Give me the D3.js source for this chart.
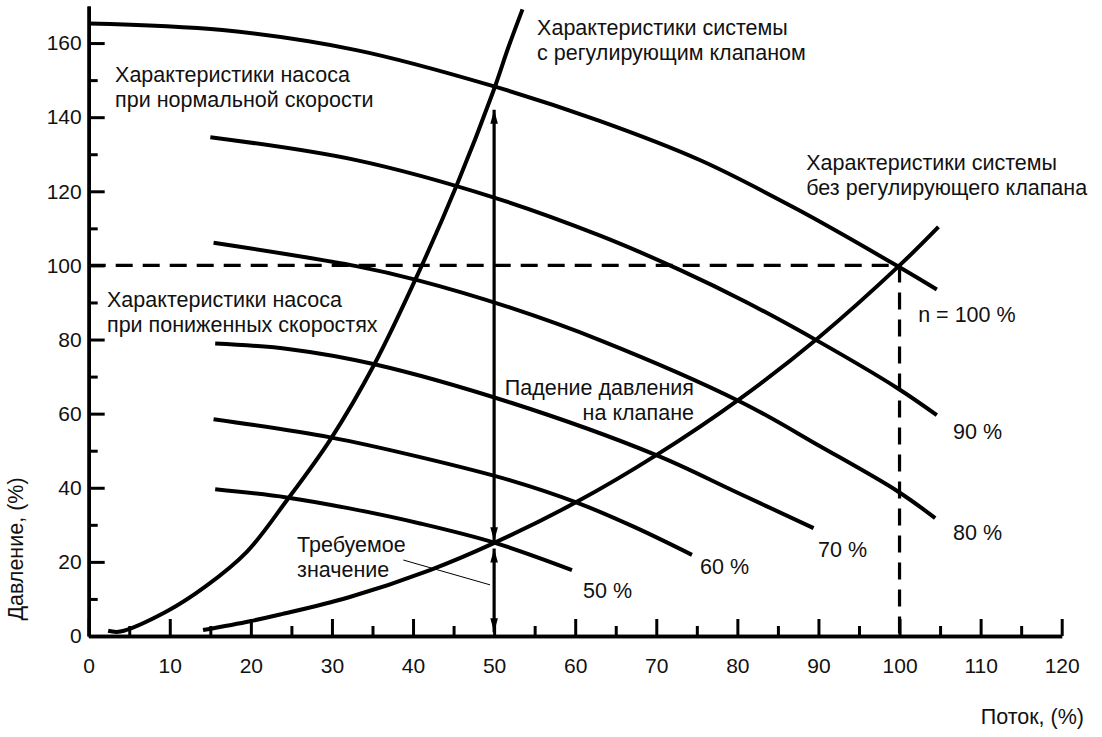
<!DOCTYPE html>
<html>
<head>
<meta charset="utf-8">
<script src="https://cdn.jsdelivr.net/npm/d3@7"></script>
<style>
  html, body { margin: 0; padding: 0; background: #fff; }
  svg { display: block; }
  text { font-family: "Liberation Sans", Arial, Helvetica, sans-serif; fill: #111; }
</style>
</head>
<body>
<div id="chart"></div>
<script>
// ---------------- DATA ----------------
const flowTicks = [0, 10, 20, 30, 40, 50, 60, 70, 80, 90, 100, 110, 120];
const flowMinorTicks = [5, 15, 25, 35, 45, 55, 65, 75, 85, 95, 105, 115];
const pressureTicks = [0, 20, 40, 60, 80, 100, 120, 140, 160];
const pressureMinorTicks = [10, 30, 50, 70, 90, 110, 130, 150];

// pump characteristic curves (flow %, pressure %)
const pump100Flow = [0, 16.5, 33, 50, 63, 75.5, 87.5, 100, 104.6];
const pump100Head = [165.3, 163.5, 158.1, 148.3, 139.0, 128.3, 115.0, 99.5, 93.5];
const pump90Flow = [15, 33, 50, 63, 72.9, 81, 90, 99.8, 104.6];
const pump90Head = [134.6, 128.4, 118.3, 108.1, 98.8, 90.2, 79.5, 66.8, 59.6];
const pump80Flow = [15.4, 33, 40.4, 52, 63.1, 80.3, 90.2, 99.8, 104.4];
const pump80Head = [106.1, 99.8, 96.1, 88.6, 79.8, 63.3, 51.2, 39.0, 31.8];
const pump70Flow = [15.6, 24.8, 35.1, 52, 70, 79.5, 89.4];
const pump70Head = [78.9, 77.4, 73.4, 63.0, 48.8, 39.2, 29.1];
const pump60Flow = [15.4, 29.8, 41, 52, 60.2, 67.2, 74.4];
const pump60Head = [58.5, 53.6, 48.2, 42.0, 36.0, 29.5, 21.9];
const pump50Flow = [15.6, 24.4, 32, 41, 50, 59.6];
const pump50Head = [39.6, 37.4, 34.5, 30.3, 25.2, 17.8];

// system curve without control valve
const sysFlow = [14.1, 19.9, 23.6, 32, 42.1, 49.9, 60.2, 70, 80.3, 90, 100, 104.8];
const sysHead = [1.6, 4.0, 5.8, 10.4, 17.8, 25.0, 36.2, 48.8, 64.0, 80.5, 100, 110.4];

// system curve with control valve
const valveFlow = [2.4, 3.9, 9.6, 14.5, 19.5, 24.4, 29.8, 35.3, 40.65, 45.4, 49.9, 51.75, 53.5];
const valveHead = [1.4, 1.2, 6.6, 13.5, 22.7, 36.5, 53.0, 73.6, 97.9, 121.7, 147.0, 158.8, 169.1];

// design point / reference values
const designFlow = [50, 100];          // required flow, full-speed flow
const designHead = [25, 100];          // required pressure, full-speed pressure
const valveDropArrow = [142, 25.6];    // pressure-drop arrow (from, to)
const requiredArrow = [23.6, 1.0];     // required pressure arrow (from, to)
const leaderFlow = [38.8, 49.5];
const leaderHead = [20.5, 13.8];

const pumpLabels = ["n = 100 %", "90 %", "80 %", "70 %", "60 %", "50 %"];

// ---------------- LAYOUT ----------------
const W = 1102, H = 737;
const svg = d3.select("#chart").append("svg").attr("width", W).attr("height", H);

const x = d3.scaleLinear().domain([0, 120]).range([88.7, 1061.7]);
const y = d3.scaleLinear().domain([0, 170]).range([636, 6]);

const FS = 21;
const FSA = 21.5;
const LINE_W = 4;

// axes
const xAxis = d3.axisBottom(x).tickValues(flowTicks).tickSizeInner(-17).tickSizeOuter(0).tickPadding(22);
const xMinor = d3.axisBottom(x).tickValues(flowMinorTicks).tickSizeInner(-10).tickSizeOuter(0).tickFormat("");
const yAxis = d3.axisLeft(y).tickValues(pressureTicks).tickSizeInner(-16).tickSizeOuter(0).tickPadding(7);
const yMinor = d3.axisLeft(y).tickValues(pressureMinorTicks).tickSizeInner(-9).tickSizeOuter(0).tickFormat("");

function styleAxis(g) {
  g.select(".domain").attr("stroke", "#000").attr("stroke-width", 3.5);
  g.selectAll(".tick line").attr("stroke", "#000").attr("stroke-width", 3);
  g.selectAll(".tick text").attr("font-size", FS).attr("fill", "#111")
    .attr("font-family", '"Liberation Sans", Arial, sans-serif');
}
svg.append("g").attr("transform", `translate(0,${y(0)})`).call(xMinor).call(styleAxis);
svg.append("g").attr("transform", `translate(0,${y(0)})`).call(xAxis).call(styleAxis);
svg.append("g").attr("transform", `translate(${x(0)},0)`).call(yMinor).call(styleAxis);
svg.append("g").attr("transform", `translate(${x(0)},0)`).call(yAxis).call(styleAxis);

// axis titles
svg.append("text").attr("x", 1084).attr("y", 724).attr("text-anchor", "end")
  .attr("font-size", FSA).text("Поток, (%)");
svg.append("text").attr("transform", "translate(23,549) rotate(-90)").attr("text-anchor", "middle")
  .attr("font-size", FSA).text("Давление, (%)");

// dashed reference lines
const dashG = svg.append("g").attr("stroke", "#000").attr("stroke-width", 3.2)
  .attr("stroke-dasharray", "17,10").attr("fill", "none");
dashG.append("line").attr("x1", x(0)).attr("x2", x(designFlow[1]))
  .attr("y1", y(designHead[1])).attr("y2", y(designHead[1]));
dashG.append("line").attr("x1", x(designFlow[1])).attr("x2", x(designFlow[1]))
  .attr("y1", y(designHead[1])).attr("y2", y(0));

// curves
const line = d3.line().x(d => x(d[0])).y(d => y(d[1])).curve(d3.curveCatmullRom.alpha(0.5));
const zip = (a, b) => a.map((v, i) => [v, b[i]]);
const curves = [
  zip(pump100Flow, pump100Head), zip(pump90Flow, pump90Head), zip(pump80Flow, pump80Head),
  zip(pump70Flow, pump70Head), zip(pump60Flow, pump60Head), zip(pump50Flow, pump50Head),
  zip(sysFlow, sysHead), zip(valveFlow, valveHead)
];
svg.append("g").selectAll("path").data(curves).join("path")
  .attr("d", line).attr("fill", "none").attr("stroke", "#000")
  .attr("stroke-width", LINE_W).attr("stroke-linecap", "butt");

// double arrows at required flow
function arrow(fromV, toV) {
  const g = svg.append("g");
  const xf = x(designFlow[0]);
  const y1 = y(fromV), y2 = y(toV);
  const dir1 = y1 < y2 ? -1 : 1; // tip direction at y1
  g.append("line").attr("x1", xf).attr("x2", xf).attr("y1", y1).attr("y2", y2)
    .attr("stroke", "#000").attr("stroke-width", 3.2);
  const head = (ty, dir) => `M${xf},${ty} L${xf - 3.8},${ty - dir * 14} L${xf + 3.8},${ty - dir * 14} Z`;
  g.append("path").attr("d", head(y1, dir1)).attr("fill", "#000");
  g.append("path").attr("d", head(y2, -dir1)).attr("fill", "#000");
}
arrow(valveDropArrow[0], valveDropArrow[1]);
arrow(requiredArrow[0], requiredArrow[1]);

// leader line
svg.append("line").attr("x1", x(leaderFlow[0])).attr("y1", y(leaderHead[0]))
  .attr("x2", x(leaderFlow[1])).attr("y2", y(leaderHead[1]))
  .attr("stroke", "#000").attr("stroke-width", 1);

// annotations: [lines, flow, pressure, anchor]
const LH = 25;
const notes = [
  [["Характеристики системы", "с регулирующим клапаном"], 55.3, 162.2, "start"],
  [["Характеристики насоса", "при нормальной скорости"], 3.25, 149.5, "start"],
  [["Характеристики системы", "без регулирующего клапана"], 88.5, 125.7, "start"],
  [["Характеристики насоса", "при пониженных скоростях"], 2.26, 88.8, "start"],
  [["Падение давления", "на клапане"], 74.65, 65.0, "end"],
  [["Требуемое", "значение"], 25.7, 22.7, "start"],
  [[pumpLabels[0]], 102.3, 84.7, "start"],
  [[pumpLabels[1]], 106.6, 53.2, "start"],
  [[pumpLabels[2]], 106.6, 25.9, "start"],
  [[pumpLabels[3]], 89.95, 21.3, "start"],
  [[pumpLabels[4]], 75.4, 16.7, "start"],
  [[pumpLabels[5]], 60.97, 10.25, "start"]
];
notes.forEach(([lines, fx, fy, anchor]) => {
  const t = svg.append("text").attr("x", x(fx)).attr("y", y(fy))
    .attr("text-anchor", anchor).attr("font-size", FSA);
  lines.forEach((s, i) => {
    t.append("tspan").attr("x", x(fx)).attr("dy", i === 0 ? 0 : LH).text(s);
  });
});
</script>
</body>
</html>
